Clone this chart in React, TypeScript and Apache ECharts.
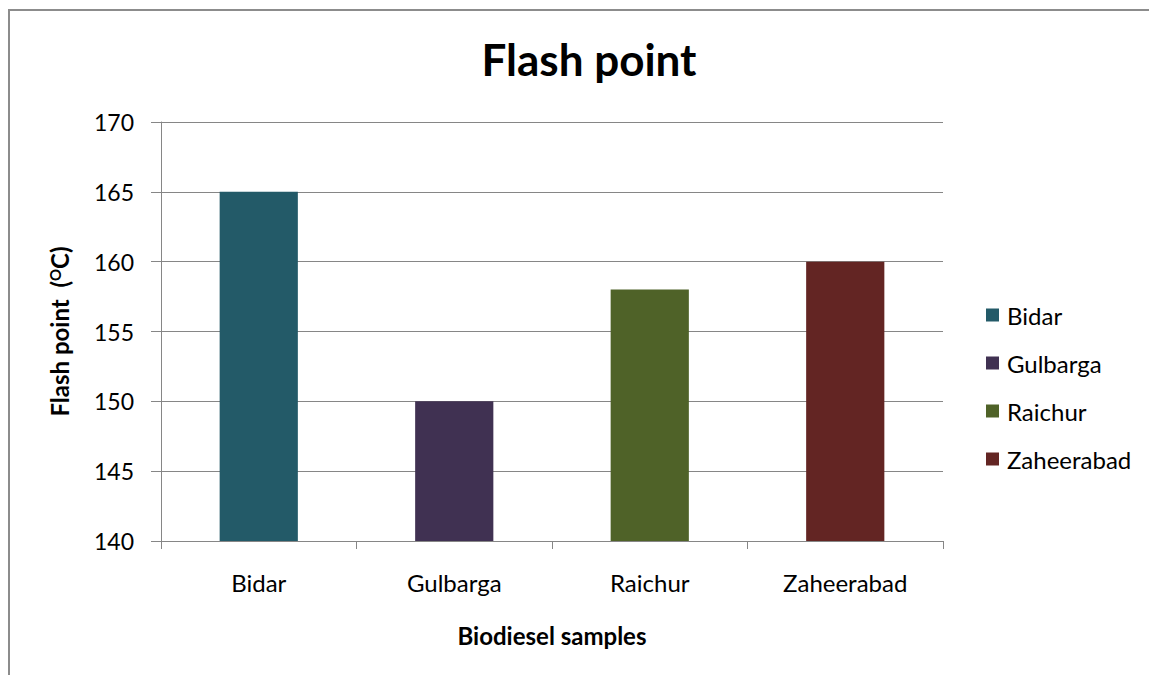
import React, { useEffect, useRef } from "react";
import * as echarts from "echarts";

const categories = ["Bidar", "Gulbarga", "Raichur", "Zaheerabad"];
const values = [165, 150, 158, 160];
const colors = ["#235a68", "#403152", "#4f6228", "#632523"];
const yTicks = { min: 140, max: 170, interval: 5 };

const FONT = "Lato";

export default function App() {
  const ref = useRef<HTMLDivElement>(null);
  useEffect(() => {
    if (!ref.current) return;
    const chart = echarts.init(ref.current, null, { renderer: "svg" });
    const series = categories.map((name, i) => ({
      name,
      type: "bar",
      barWidth: "40%",
      barGap: "-100%",
      itemStyle: { color: colors[i] },
      data: categories.map((_, j) => (j === i ? values[i] : "-")),
    }));
    chart.setOption({
      animation: false,
      backgroundColor: "#ffffff",
      textStyle: { fontFamily: FONT },
      title: {
        text: "Flash point",
        left: 584,
        top: 32,
        textAlign: "center",
        textStyle: { fontFamily: FONT, fontSize: 44, fontWeight: "bold", color: "#000" },
      },
      graphic: [
        {
          type: "rect",
          shape: { x: 9, y: 10, width: 1170, height: 720 },
          style: { fill: "none", stroke: "#8c8c8c", lineWidth: 2 },
          silent: true,
        },
      ],
      legend: {
        orient: "vertical",
        left: 981,
        top: 298,
        itemWidth: 13,
        itemHeight: 13,
        itemGap: 24,
        icon: "rect",
        data: categories,
        textStyle: { fontFamily: FONT, fontSize: 24, color: "#000", lineHeight: 24, padding: [0, 0, 0, 3] },
      },
      grid: { left: 161, right: 206, top: 122, bottom: 134, containLabel: false },
      xAxis: {
        type: "category",
        data: categories,
        name: "Biodiesel samples",
        nameLocation: "middle",
        nameGap: 82,
        nameTextStyle: { fontFamily: FONT, fontSize: 24, fontWeight: "bold", color: "#000" },
        axisLine: { lineStyle: { color: "#868686", width: 1 } },
        axisTick: { show: true, length: 8, alignWithLabel: false, lineStyle: { color: "#868686" } },
        axisLabel: { fontFamily: FONT, fontSize: 24, color: "#000", margin: 29 },
      },
      yAxis: {
        type: "value",
        min: yTicks.min,
        max: yTicks.max,
        interval: yTicks.interval,
        name: "Flash point  ({sup|O}C)",
        nameLocation: "middle",
        nameGap: 89,
        nameRotate: 90,
        nameTextStyle: {
          fontFamily: FONT,
          fontSize: 24,
          fontWeight: "bold",
          color: "#000",
          rich: {
            sup: { fontFamily: FONT, fontSize: 15, fontWeight: "bold", color: "#000", padding: [0, 0, 10, 0] },
          },
        },
        axisLine: { show: true, lineStyle: { color: "#868686", width: 1 } },
        axisTick: { show: true, length: 10, lineStyle: { color: "#868686" } },
        axisLabel: { fontFamily: FONT, fontSize: 23, color: "#000", margin: 27 },
        splitLine: { show: true, lineStyle: { color: "#868686", width: 1 } },
      },
      series,
    });
    return () => chart.dispose();
  }, []);
  return (
    <div
      ref={ref}
      style={{ position: "absolute", left: 0, top: 0, width: 1149, height: 675 }}
    />
  );
}
